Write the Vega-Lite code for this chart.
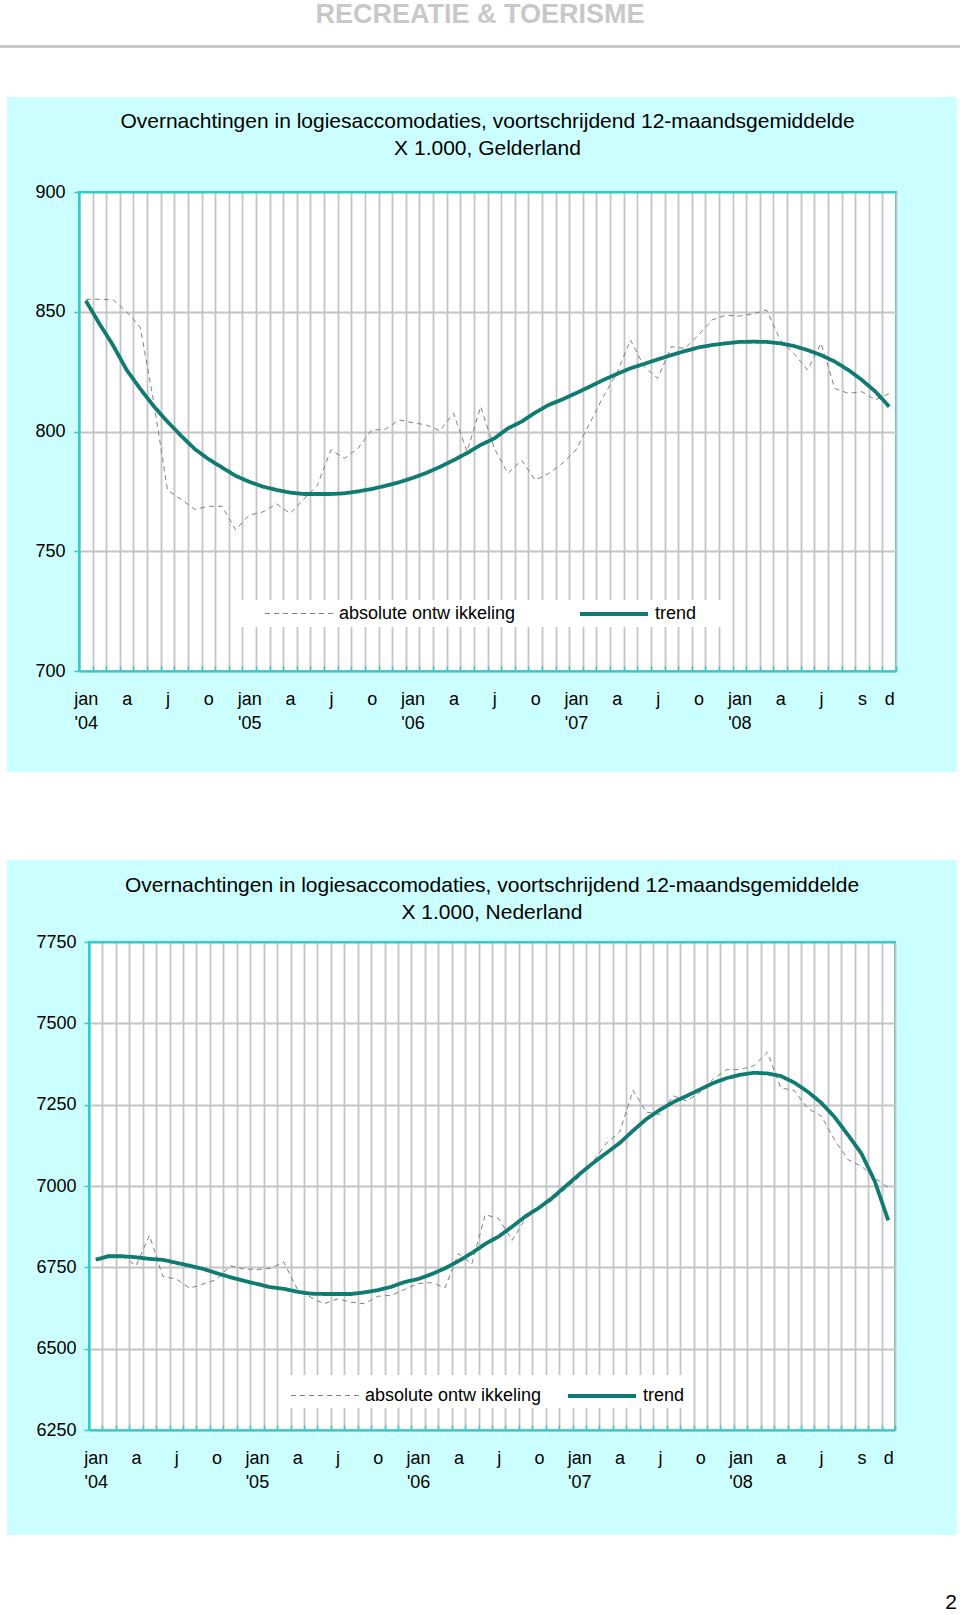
{
  "$schema": "https://vega.github.io/schema/vega-lite/v6.json",
  "background": "#ccffff",
  "padding": 0,
  "spacing": 0,
  "config": {
    "view": {"stroke": null},
    "font": "Liberation Sans",
    "concat": {"spacing": 0}
  },
  "resolve": {"scale": {"color": "independent", "strokeDash": "independent", "strokeWidth": "independent"}, "legend": {"color": "independent", "strokeDash": "independent", "strokeWidth": "independent"}},
  "datasets": {
    "g": [{"m":0,"a":855.2,"t":854.6},{"m":1,"a":855.2,"t":845},{"m":2,"a":855,"t":836},{"m":3,"a":850,"t":825.7},{"m":4,"a":843.5,"t":817.8},{"m":5,"a":812,"t":810.5},{"m":6,"a":775.5,"t":804.1},{"m":7,"a":771.7,"t":798.2},{"m":8,"a":767.5,"t":792.7},{"m":9,"a":768.8,"t":788.5},{"m":10,"a":768.8,"t":785},{"m":11,"a":759,"t":781.5},{"m":12,"a":765.1,"t":779},{"m":13,"a":766.4,"t":777},{"m":14,"a":769.8,"t":775.6},{"m":15,"a":765.8,"t":774.5},{"m":16,"a":771.6,"t":773.9},{"m":17,"a":777.5,"t":773.9},{"m":18,"a":792.3,"t":773.9},{"m":19,"a":788.8,"t":774.2},{"m":20,"a":793,"t":775},{"m":21,"a":800.6,"t":776},{"m":22,"a":800.9,"t":777.3},{"m":23,"a":804.8,"t":778.8},{"m":24,"a":803.7,"t":780.6},{"m":25,"a":802.7,"t":782.7},{"m":26,"a":800.3,"t":785.2},{"m":27,"a":807.6,"t":788},{"m":28,"a":791.6,"t":791},{"m":29,"a":810.4,"t":794.4},{"m":30,"a":793,"t":797.1},{"m":31,"a":782.5,"t":801.3},{"m":32,"a":788,"t":804.1},{"m":33,"a":779.7,"t":807.9},{"m":34,"a":782.5,"t":811.1},{"m":35,"a":786.7,"t":813.4},{"m":36,"a":792.3,"t":816},{"m":37,"a":803.4,"t":818.7},{"m":38,"a":814.5,"t":821.5},{"m":39,"a":824.3,"t":824},{"m":40,"a":838.2,"t":826.4},{"m":41,"a":827.1,"t":828.2},{"m":42,"a":822.2,"t":830.1},{"m":43,"a":835.4,"t":831.9},{"m":44,"a":834.7,"t":833.6},{"m":45,"a":840.3,"t":835.1},{"m":46,"a":846.6,"t":836.1},{"m":47,"a":848.6,"t":836.8},{"m":48,"a":848.2,"t":837.4},{"m":49,"a":849.1,"t":837.5},{"m":50,"a":850.7,"t":837.4},{"m":51,"a":838.2,"t":836.8},{"m":52,"a":832.6,"t":835.7},{"m":53,"a":825.7,"t":834},{"m":54,"a":836.8,"t":831.9},{"m":55,"a":818,"t":829.2},{"m":56,"a":815.9,"t":825.7},{"m":57,"a":816.6,"t":821.5},{"m":58,"a":813.2,"t":816.6},{"m":59,"a":815.9,"t":810.4}],
    "n": [{"m":0,"a":6776,"t":6774},{"m":1,"a":6790,"t":6784},{"m":2,"a":6783,"t":6784},{"m":3,"a":6755,"t":6781},{"m":4,"a":6848,"t":6776},{"m":5,"a":6722,"t":6773},{"m":6,"a":6714,"t":6764},{"m":7,"a":6686,"t":6755},{"m":8,"a":6699,"t":6745},{"m":9,"a":6712,"t":6732},{"m":10,"a":6755,"t":6720},{"m":11,"a":6745,"t":6709},{"m":12,"a":6743,"t":6699},{"m":13,"a":6747,"t":6689},{"m":14,"a":6766,"t":6684},{"m":15,"a":6684,"t":6675},{"m":16,"a":6658,"t":6669},{"m":17,"a":6638,"t":6668},{"m":18,"a":6653,"t":6668},{"m":19,"a":6643,"t":6668},{"m":20,"a":6638,"t":6673},{"m":21,"a":6661,"t":6680},{"m":22,"a":6664,"t":6690},{"m":23,"a":6682,"t":6705},{"m":24,"a":6700,"t":6714},{"m":25,"a":6703,"t":6729},{"m":26,"a":6687,"t":6747},{"m":27,"a":6792,"t":6769},{"m":28,"a":6761,"t":6794},{"m":29,"a":6912,"t":6822},{"m":30,"a":6900,"t":6845},{"m":31,"a":6833,"t":6875},{"m":32,"a":6900,"t":6907},{"m":33,"a":6930,"t":6933},{"m":34,"a":6956,"t":6964},{"m":35,"a":6992,"t":7000},{"m":36,"a":7028,"t":7036},{"m":37,"a":7074,"t":7070},{"m":38,"a":7130,"t":7101},{"m":39,"a":7166,"t":7132},{"m":40,"a":7294,"t":7170},{"m":41,"a":7227,"t":7206},{"m":42,"a":7220,"t":7234},{"m":43,"a":7277,"t":7258},{"m":44,"a":7261,"t":7277},{"m":45,"a":7289,"t":7297},{"m":46,"a":7330,"t":7317},{"m":47,"a":7358,"t":7332},{"m":48,"a":7358,"t":7342},{"m":49,"a":7370,"t":7348},{"m":50,"a":7411,"t":7346},{"m":51,"a":7301,"t":7338},{"m":52,"a":7294,"t":7318},{"m":53,"a":7238,"t":7290},{"m":54,"a":7216,"t":7256},{"m":55,"a":7142,"t":7212},{"m":56,"a":7081,"t":7157},{"m":57,"a":7061,"t":7100},{"m":58,"a":7025,"t":7014},{"m":59,"a":6995,"t":6894}]
  },
  "vconcat": [
    {"width": 960, "height": 45, "data": {"values": []}, "mark": "text", "view": {"fill": "#ffffff", "stroke": null},
     "title": {"text": "RECREATIE & TOERISME", "orient": "top", "anchor": "middle", "frame": "group", "offset": -29, "fontSize": 27, "fontWeight": "bold", "color": "#c8c8c8", "font": "Liberation Sans"}},
    {"width": 960, "height": 3, "data": {"values": []}, "mark": "text", "view": {"fill": "#c8c8c8", "stroke": null}},
    {"width": 960, "height": 49, "data": {"values": []}, "mark": "text", "view": {"fill": "#ffffff", "stroke": null}},
    {
      "spacing": 0,
      "resolve": {"scale": {"color": "independent", "strokeDash": "independent", "strokeWidth": "independent"}, "legend": {"color": "independent", "strokeDash": "independent", "strokeWidth": "independent"}},
      "hconcat": [
        {"width": 7, "height": 1518, "data": {"values": []}, "mark": "text", "view": {"fill": "#ffffff", "stroke": null}},
        {
          "spacing": 0,
          "resolve": {"scale": {"color": "independent", "strokeDash": "independent", "strokeWidth": "independent"}, "legend": {"color": "independent", "strokeDash": "independent", "strokeWidth": "independent"}},
          "vconcat": [
            {"width": 10, "height": 13, "data": {"values": []}, "mark": "text"},
            {
              "spacing": 0,
              "resolve": {"scale": {"color": "independent", "strokeDash": "independent", "strokeWidth": "independent"}, "legend": {"color": "independent", "strokeDash": "independent", "strokeWidth": "independent"}},
              "hconcat": [
                {"width": 26, "height": 10, "data": {"values": []}, "mark": "text"},
                {
                  "width": 817, "height": 479,
                  "title": {"text": ["Overnachtingen in logiesaccomodaties, voortschrijdend 12-maandsgemiddelde", "X 1.000, Gelderland"], "anchor": "middle", "frame": "group", "fontSize": 21, "fontWeight": "normal", "font": "Liberation Sans", "color": "#000000", "lineHeight": 27, "offset": 24},
                  "view": {"fill": "#ffffff", "stroke": "#33cccc", "strokeWidth": 2},
                  "data": {"name": "g"},
                  "transform": [{"fold": ["a", "t"], "as": ["s", "v"]}],
                  "encoding": {
                    "x": {"field": "m", "type": "ordinal", "bandPosition": 0.5, "scale": {"type": "band", "paddingInner": 0, "paddingOuter": 0},
                      "axis": {"title": null, "tickBand": "extent", "grid": true, "gridColor": {"condition": {"test": "datum.extra", "value": "#33cccc"}, "value": "#c4c4c4"}, "gridWidth": 1.8, "domainColor": "#33cccc", "domainWidth": 2, "tickColor": "#33cccc", "tickSize": -5, "tickWidth": 1.5, "labelAngle": 0, "labelFont": "Liberation Sans", "labelFontSize": 18, "labelColor": "#000000", "labelPadding": 24, "labelLineHeight": 24, "labelOverlap": false, "labelFlush": false,
                        "labelExpr": "datum.value == 0 ? ['jan', \"'04\"] : datum.value == 12 ? ['jan', \"'05\"] : datum.value == 24 ? ['jan', \"'06\"] : datum.value == 36 ? ['jan', \"'07\"] : datum.value == 48 ? ['jan', \"'08\"] : datum.value == 57 ? 's' : datum.value == 59 ? 'd' : datum.value % 12 == 3 ? 'a' : datum.value % 12 == 6 ? 'j' : (datum.value % 12 == 9 && datum.value < 48) ? 'o' : ''"}},
                    "y": {"field": "v", "type": "quantitative", "scale": {"domain": [700, 900], "nice": false, "zero": false},
                      "axis": {"title": null, "values": [700, 750, 800, 850, 900], "format": "d", "grid": true, "gridColor": {"condition": {"test": "datum.value == 900", "value": "#33cccc"}, "value": "#c4c4c4"}, "gridWidth": 1.8, "domainColor": "#33cccc", "domainWidth": 2, "tickColor": "#33cccc", "tickSize": 5, "tickWidth": 1.5, "labelFont": "Liberation Sans", "labelFontSize": 18, "labelColor": "#000000", "labelPadding": 9}},
                    "color": {"field": "s", "type": "nominal", "scale": {"domain": ["a", "t"], "range": ["#7f7f7f", "#107b72"]},
                      "legend": {"orient": "none", "legendX": 161, "legendY": 408, "direction": "horizontal", "title": " ", "titleOrient": "right", "titlePadding": 25, "titleFontSize": 18, "fillColor": "#ffffff", "padding": 4, "symbolType": "M-4.25,0H4.25", "symbolSize": 256, "symbolOffset": 46, "labelOffset": 31, "columnPadding": 42, "labelFont": "Liberation Sans", "labelFontSize": 18, "labelColor": "#000000", "labelLimit": 400, "labelExpr": "datum.label == 'a' ? 'absolute ontw ikkeling' : 'trend'"}},
                    "strokeDash": {"field": "s", "type": "nominal", "scale": {"domain": ["a", "t"], "range": [[5, 4], [1, 0]]},
                      "legend": {"orient": "none", "legendX": 161, "legendY": 408, "direction": "horizontal", "title": " ", "titleOrient": "right", "titlePadding": 25, "titleFontSize": 18, "fillColor": "#ffffff", "padding": 4, "symbolType": "M-4.25,0H4.25", "symbolSize": 256, "symbolOffset": 46, "labelOffset": 31, "columnPadding": 42, "labelFont": "Liberation Sans", "labelFontSize": 18, "labelColor": "#000000", "labelLimit": 400, "labelExpr": "datum.label == 'a' ? 'absolute ontw ikkeling' : 'trend'"}},
                    "strokeWidth": {"field": "s", "type": "nominal", "scale": {"domain": ["a", "t"], "range": [1, 3.8]},
                      "legend": {"orient": "none", "legendX": 161, "legendY": 408, "direction": "horizontal", "title": " ", "titleOrient": "right", "titlePadding": 25, "titleFontSize": 18, "fillColor": "#ffffff", "padding": 4, "symbolType": "M-4.25,0H4.25", "symbolSize": 256, "symbolOffset": 46, "labelOffset": 31, "columnPadding": 42, "labelFont": "Liberation Sans", "labelFontSize": 18, "labelColor": "#000000", "labelLimit": 400, "labelExpr": "datum.label == 'a' ? 'absolute ontw ikkeling' : 'trend'"}}
                  },
                  "layer": [
                    {"transform": [{"filter": "datum.s == 'a'"}], "mark": {"type": "line"}},
                    {"transform": [{"filter": "datum.s == 't'"}], "mark": {"type": "line"}}
                  ]
                }
              ]
            },
            {"width": 10, "height": 39, "data": {"values": []}, "mark": "text"},
            {"width": 950, "height": 88, "data": {"values": []}, "mark": "text", "view": {"fill": "#ffffff", "stroke": null}},
            {"width": 10, "height": 14, "data": {"values": []}, "mark": "text"},
            {
              "spacing": 0,
              "resolve": {"scale": {"color": "independent", "strokeDash": "independent", "strokeWidth": "independent"}, "legend": {"color": "independent", "strokeDash": "independent", "strokeWidth": "independent"}},
              "hconcat": [
                {"width": 27, "height": 10, "data": {"values": []}, "mark": "text"},
                {
                  "width": 806, "height": 488,
                  "title": {"text": ["Overnachtingen in logiesaccomodaties, voortschrijdend 12-maandsgemiddelde", "X 1.000, Nederland"], "anchor": "middle", "frame": "group", "fontSize": 21, "fontWeight": "normal", "font": "Liberation Sans", "color": "#000000", "lineHeight": 27, "offset": 10},
                  "view": {"fill": "#ffffff", "stroke": "#33cccc", "strokeWidth": 2},
                  "data": {"name": "n"},
                  "transform": [{"fold": ["a", "t"], "as": ["s", "v"]}],
                  "encoding": {
                    "x": {"field": "m", "type": "ordinal", "bandPosition": 0.5, "scale": {"type": "band", "paddingInner": 0, "paddingOuter": 0},
                      "axis": {"title": null, "tickBand": "extent", "grid": true, "gridColor": {"condition": {"test": "datum.extra", "value": "#33cccc"}, "value": "#c4c4c4"}, "gridWidth": 1.8, "domainColor": "#33cccc", "domainWidth": 2, "tickColor": "#33cccc", "tickSize": -5, "tickWidth": 1.5, "labelAngle": 0, "labelFont": "Liberation Sans", "labelFontSize": 18, "labelColor": "#000000", "labelPadding": 24, "labelLineHeight": 24, "labelOverlap": false, "labelFlush": false,
                        "labelExpr": "datum.value == 0 ? ['jan', \"'04\"] : datum.value == 12 ? ['jan', \"'05\"] : datum.value == 24 ? ['jan', \"'06\"] : datum.value == 36 ? ['jan', \"'07\"] : datum.value == 48 ? ['jan', \"'08\"] : datum.value == 57 ? 's' : datum.value == 59 ? 'd' : datum.value % 12 == 3 ? 'a' : datum.value % 12 == 6 ? 'j' : (datum.value % 12 == 9 && datum.value < 48) ? 'o' : ''"}},
                    "y": {"field": "v", "type": "quantitative", "scale": {"domain": [6250, 7750], "nice": false, "zero": false},
                      "axis": {"title": null, "values": [6250, 6500, 6750, 7000, 7250, 7500, 7750], "format": "d", "grid": true, "gridColor": {"condition": {"test": "datum.value == 7750", "value": "#33cccc"}, "value": "#c4c4c4"}, "gridWidth": 1.8, "domainColor": "#33cccc", "domainWidth": 2, "tickColor": "#33cccc", "tickSize": 5, "tickWidth": 1.5, "labelFont": "Liberation Sans", "labelFontSize": 18, "labelColor": "#000000", "labelPadding": 8}},
                    "color": {"field": "s", "type": "nominal", "scale": {"domain": ["a", "t"], "range": ["#7f7f7f", "#107b72"]},
                      "legend": {"orient": "none", "legendX": 201, "legendY": 433, "direction": "horizontal", "title": " ", "titleOrient": "top", "titlePadding": 4, "titleFontSize": 4, "fillColor": "#ffffff", "padding": 3, "symbolType": "M-4.25,0H4.25", "symbolSize": 256, "symbolOffset": 23, "labelOffset": 31, "columnPadding": 18, "labelFont": "Liberation Sans", "labelFontSize": 18, "labelColor": "#000000", "labelLimit": 400, "labelExpr": "datum.label == 'a' ? 'absolute ontw ikkeling' : 'trend'"}},
                    "strokeDash": {"field": "s", "type": "nominal", "scale": {"domain": ["a", "t"], "range": [[5, 4], [1, 0]]},
                      "legend": {"orient": "none", "legendX": 201, "legendY": 433, "direction": "horizontal", "title": " ", "titleOrient": "top", "titlePadding": 4, "titleFontSize": 4, "fillColor": "#ffffff", "padding": 3, "symbolType": "M-4.25,0H4.25", "symbolSize": 256, "symbolOffset": 23, "labelOffset": 31, "columnPadding": 18, "labelFont": "Liberation Sans", "labelFontSize": 18, "labelColor": "#000000", "labelLimit": 400, "labelExpr": "datum.label == 'a' ? 'absolute ontw ikkeling' : 'trend'"}},
                    "strokeWidth": {"field": "s", "type": "nominal", "scale": {"domain": ["a", "t"], "range": [1, 3.8]},
                      "legend": {"orient": "none", "legendX": 201, "legendY": 433, "direction": "horizontal", "title": " ", "titleOrient": "top", "titlePadding": 4, "titleFontSize": 4, "fillColor": "#ffffff", "padding": 3, "symbolType": "M-4.25,0H4.25", "symbolSize": 256, "symbolOffset": 23, "labelOffset": 31, "columnPadding": 18, "labelFont": "Liberation Sans", "labelFontSize": 18, "labelColor": "#000000", "labelLimit": 400, "labelExpr": "datum.label == 'a' ? 'absolute ontw ikkeling' : 'trend'"}}
                  },
                  "layer": [
                    {"transform": [{"filter": "datum.s == 'a'"}], "mark": {"type": "line"}},
                    {"transform": [{"filter": "datum.s == 't'"}], "mark": {"type": "line"}}
                  ]
                }
              ]
            },
            {"width": 10, "height": 43, "data": {"values": []}, "mark": "text"},
            {"width": 950, "height": 81, "data": {"values": []}, "mark": "text", "view": {"fill": "#ffffff", "stroke": null},
             "title": {"text": "2", "orient": "bottom", "anchor": "end", "frame": "group", "offset": -24, "fontSize": 21, "fontWeight": "normal", "color": "#000000", "font": "Liberation Sans"}}
          ]
        },
        {"width": 3, "height": 1518, "data": {"values": []}, "mark": "text", "view": {"fill": "#ffffff", "stroke": null}}
      ]
    }
  ]
}
